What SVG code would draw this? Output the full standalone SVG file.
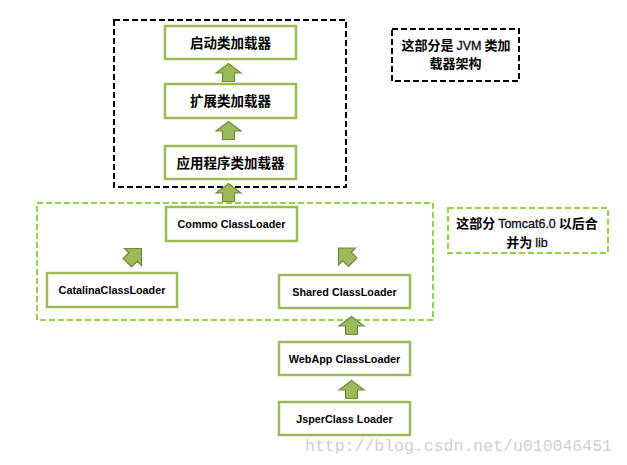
<svg xmlns="http://www.w3.org/2000/svg" width="627" height="465" viewBox="0 0 627 465">
<style>
.box{fill:#fff;stroke:#9bbb59;stroke-width:2.5}
.cn{font-family:"Noto Sans CJK SC","Liberation Sans",sans-serif;font-weight:bold;font-size:13.5px;fill:#000;text-anchor:middle}
.en{font-family:"Liberation Sans","Noto Sans CJK SC",sans-serif;font-weight:bold;font-size:10.8px;fill:#000;text-anchor:middle}
.note{font-family:"Noto Sans CJK SC","Liberation Sans",sans-serif;font-weight:bold;font-size:13px;fill:#000;text-anchor:middle}
.lat{font-family:"Liberation Sans",sans-serif;font-weight:normal;font-size:12.5px;fill:#0a0a1a;stroke:#0a0a1a;stroke-width:0.3}
.bdash{fill:none;stroke:#000;stroke-width:2;stroke-dasharray:6 3}
.gdash{fill:none;stroke:#92d050;stroke-width:2;stroke-dasharray:6 3}
.arr{fill:#9bbb59;stroke:#71893f;stroke-width:1.2}
</style>
<defs>
<path id="up" d="M-12.5,0 L0,-9.5 L12.5,0 L6,0 L6,8.5 L-6,8.5 L-6,0 Z"/>
<path id="diag" d="M-12,0 L0,-12 L12,0 L6,0 L6,8 L-6,8 L-6,0 Z"/>
</defs>
<rect width="627" height="465" fill="#fff"/>
<g id="jvm-group">
<rect class="bdash" x="114" y="20" width="232" height="167"/>
</g>
<g id="tomcat-group">
<rect class="gdash" x="37" y="203" width="396" height="117"/>
</g>
<g id="connectors">
<use href="#up" class="arr" transform="translate(228.5,73)"/>
<use href="#up" class="arr" transform="translate(228.5,131)"/>
<use href="#up" class="arr" transform="translate(228.5,193)"/>
<use href="#diag" class="arr" transform="translate(133,257) rotate(45)"/>
<use href="#diag" class="arr" transform="translate(347,256.5) rotate(-45)"/>
<use href="#up" class="arr" transform="translate(351.5,326)"/>
<use href="#up" class="arr" transform="translate(351.5,390)"/>
</g>
<g id="bootstrap">
<rect class="box" x="165" y="26" width="131" height="33"/>
<text class="cn" x="230.5" y="47.5">启动类加载器</text>
</g>
<g id="extension">
<rect class="box" x="165" y="84" width="131" height="34"/>
<text class="cn" x="230.5" y="106">扩展类加载器</text>
</g>
<g id="application">
<rect class="box" x="165" y="146" width="131" height="33"/>
<text class="cn" x="230.5" y="167.5">应用程序类加载器</text>
</g>
<g id="common">
<rect class="box" x="166" y="207" width="131" height="34"/>
<text class="en" x="231.5" y="228">Commo ClassLoader</text>
</g>
<g id="catalina">
<rect class="box" x="47" y="273" width="130" height="34"/>
<text class="en" x="112" y="294">CatalinaClassLoader</text>
</g>
<g id="shared">
<rect class="box" x="279" y="275" width="131" height="33"/>
<text class="en" x="344.5" y="296">Shared ClassLoader</text>
</g>
<g id="webapp">
<rect class="box" x="279" y="342" width="131" height="33"/>
<text class="en" x="344.5" y="363">WebApp ClassLoader</text>
</g>
<g id="jasper">
<rect class="box" x="279" y="402" width="131" height="33"/>
<text class="en" x="344.5" y="423">JsperClass Loader</text>
</g>
<g id="note-jvm">
<rect class="bdash" x="392" y="29" width="127" height="52"/>
<text class="note" x="456" y="50">这部分是 <tspan class="lat">JVM</tspan> 类加</text>
<text class="note" x="455.5" y="68">载器架构</text>
</g>
<g id="note-tomcat">
<rect class="gdash" x="448" y="208" width="160" height="45"/>
<text class="note" x="527" y="228">这部分 <tspan class="lat">Tomcat6.0</tspan> 以后合</text>
<text class="note" x="527" y="247">并为 <tspan class="lat">lib</tspan></text>
</g>
<text x="305" y="451" font-family="Liberation Mono, monospace" font-size="16.5" fill="#d0d0d0">http://blog.csdn.net/u010046451</text>
</svg>
